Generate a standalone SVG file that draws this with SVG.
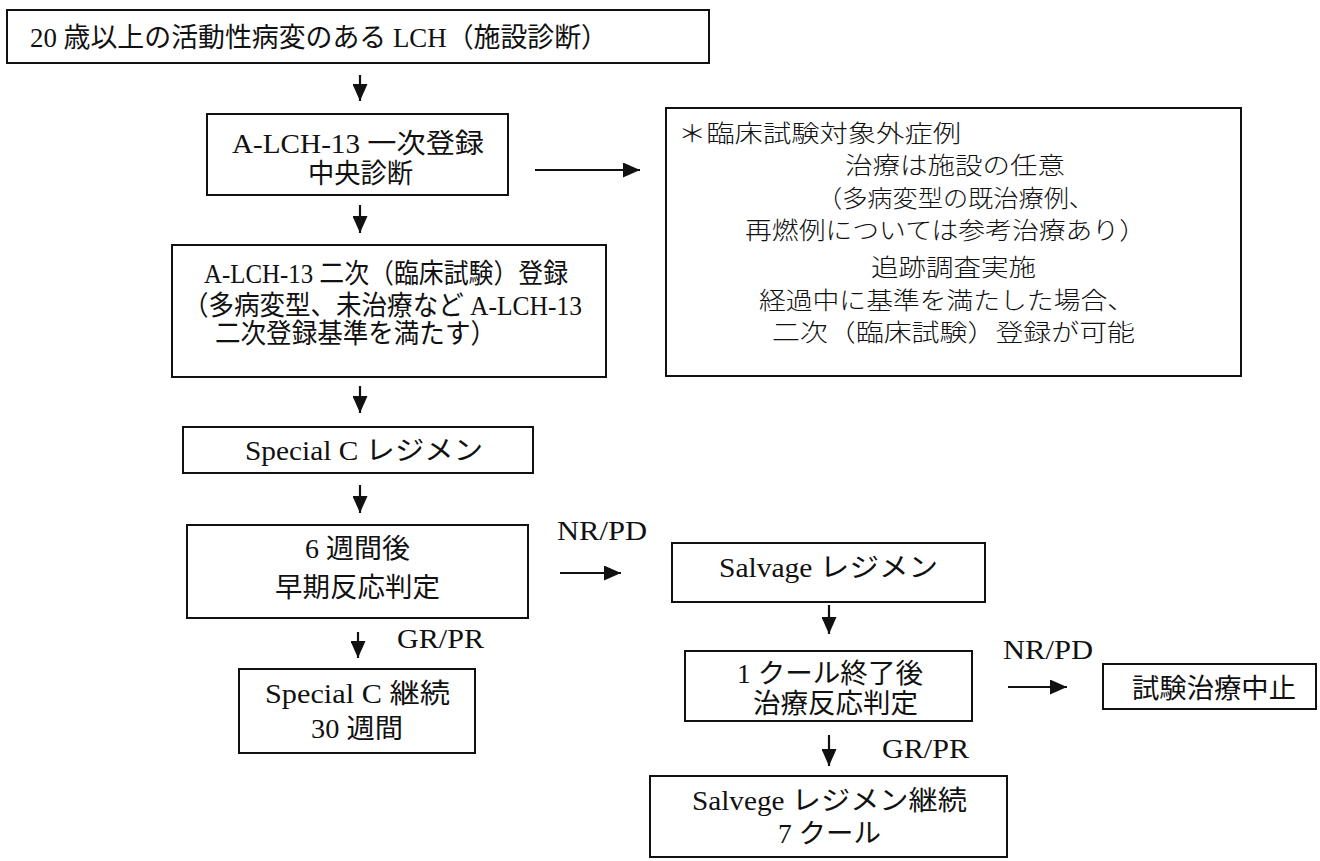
<svg xmlns="http://www.w3.org/2000/svg" width="1320" height="861" viewBox="0 0 1320 861">
<style>
.box{fill:none;stroke:#111;stroke-width:2}
.t{font-family:"Liberation Serif","Noto Sans CJK JP",serif;font-size:27px;fill:#111}
.g{font-family:"Noto Sans CJK JP",sans-serif;font-size:24px;font-weight:300;fill:#111}
.c{stroke:#111;stroke-width:2.2;fill:none}
</style>
<defs>
<marker id="ah" viewBox="0 0 17 15" refX="17" refY="7.5" markerWidth="17" markerHeight="15" markerUnits="userSpaceOnUse" orient="auto">
<path d="M0,0 L17,7.5 L0,15 Z" fill="#111"/>
</marker>
</defs>
<rect width="1320" height="861" fill="#fff"/>
<g id="n1"><rect class="box" x="7" y="10" width="702" height="53"/>
<text class="t" x="30" y="47" textLength="578" lengthAdjust="spacingAndGlyphs">20 歳以上の活動性病変のある LCH（施設診断）</text></g>
<g id="n2"><rect class="box" x="207" y="114" width="301" height="81"/>
<text class="t" x="232" y="153" textLength="252" lengthAdjust="spacingAndGlyphs">A-LCH-13 一次登録</text>
<text class="t" x="308" y="183" textLength="105" lengthAdjust="spacingAndGlyphs">中央診断</text></g>
<g id="n3"><rect class="box" x="666" y="108" width="575" height="268"/>
<text class="g" x="678" y="142" textLength="283" lengthAdjust="spacingAndGlyphs">＊臨床試験対象外症例</text>
<text class="g" x="845" y="174" textLength="220" lengthAdjust="spacingAndGlyphs">治療は施設の任意</text>
<text class="g" x="817" y="207" textLength="277" lengthAdjust="spacingAndGlyphs">（多病変型の既治療例、</text>
<text class="g" x="745" y="239" textLength="401" lengthAdjust="spacingAndGlyphs">再燃例については参考治療あり）</text>
<text class="g" x="871" y="276" textLength="165" lengthAdjust="spacingAndGlyphs">追跡調査実施</text>
<text class="g" x="759" y="309" textLength="375" lengthAdjust="spacingAndGlyphs">経過中に基準を満たした場合、</text>
<text class="g" x="772" y="341" textLength="363" lengthAdjust="spacingAndGlyphs">二次（臨床試験）登録が可能</text></g>
<g id="n4"><rect class="box" x="172" y="245" width="434" height="132"/>
<text class="t" x="204" y="283" textLength="364" lengthAdjust="spacingAndGlyphs">A-LCH-13 二次（臨床試験）登録</text>
<text class="t" x="183" y="315" textLength="399" lengthAdjust="spacingAndGlyphs">（多病変型、未治療など A-LCH-13</text>
<text class="t" x="215" y="343" textLength="281" lengthAdjust="spacingAndGlyphs">二次登録基準を満たす）</text></g>
<g id="n5"><rect class="box" x="183" y="427" width="350" height="46"/>
<text class="t" x="245" y="460" textLength="238" lengthAdjust="spacingAndGlyphs">Special C レジメン</text></g>
<g id="n6"><rect class="box" x="187" y="525" width="341" height="93"/>
<text class="t" x="305" y="558" textLength="105" lengthAdjust="spacingAndGlyphs">6 週間後</text>
<text class="t" x="275" y="597" textLength="165" lengthAdjust="spacingAndGlyphs">早期反応判定</text></g>
<g id="n7"><rect class="box" x="239" y="669" width="236" height="84"/>
<text class="t" x="265" y="703" textLength="185" lengthAdjust="spacingAndGlyphs">Special C 継続</text>
<text class="t" x="311" y="738" textLength="92" lengthAdjust="spacingAndGlyphs">30 週間</text></g>
<g id="n8"><rect class="box" x="672" y="543" width="313" height="59"/>
<text class="t" x="719" y="577" textLength="219" lengthAdjust="spacingAndGlyphs">Salvage レジメン</text></g>
<g id="n9"><rect class="box" x="685" y="651" width="287" height="70"/>
<text class="t" x="737" y="683" textLength="186" lengthAdjust="spacingAndGlyphs">1 クール終了後</text>
<text class="t" x="753" y="713" textLength="165" lengthAdjust="spacingAndGlyphs">治療反応判定</text></g>
<g id="n10"><rect class="box" x="1103" y="664" width="213" height="45"/>
<text class="t" x="1132" y="698" textLength="164" lengthAdjust="spacingAndGlyphs">試験治療中止</text></g>
<g id="n11"><rect class="box" x="650" y="776" width="357" height="81"/>
<text class="t" x="692" y="810" textLength="275" lengthAdjust="spacingAndGlyphs">Salvege レジメン継続</text>
<text class="t" x="778" y="843" textLength="103" lengthAdjust="spacingAndGlyphs">7 クール</text></g>
<g id="labels">
<text class="t" x="557" y="540" textLength="90" lengthAdjust="spacingAndGlyphs">NR/PD</text>
<text class="t" x="397" y="648" textLength="87" lengthAdjust="spacingAndGlyphs">GR/PR</text>
<text class="t" x="1003" y="659" textLength="90" lengthAdjust="spacingAndGlyphs">NR/PD</text>
<text class="t" x="882" y="758" textLength="87" lengthAdjust="spacingAndGlyphs">GR/PR</text>
</g>
<g id="connectors">
<line class="c" x1="360" y1="75" x2="360" y2="101" marker-end="url(#ah)"/>
<line class="c" x1="360" y1="205" x2="360" y2="233" marker-end="url(#ah)"/>
<line class="c" x1="360" y1="386" x2="360" y2="413" marker-end="url(#ah)"/>
<line class="c" x1="360" y1="485" x2="360" y2="513" marker-end="url(#ah)"/>
<line class="c" x1="358" y1="632" x2="358" y2="658" marker-end="url(#ah)"/>
<line class="c" x1="829" y1="605" x2="829" y2="634" marker-end="url(#ah)"/>
<line class="c" x1="829" y1="735" x2="829" y2="766" marker-end="url(#ah)"/>
<line class="c" x1="535" y1="170" x2="640" y2="170" marker-end="url(#ah)"/>
<line class="c" x1="560" y1="573" x2="621" y2="573" marker-end="url(#ah)"/>
<line class="c" x1="1008" y1="687" x2="1067" y2="687" marker-end="url(#ah)"/>
</g>
</svg>
